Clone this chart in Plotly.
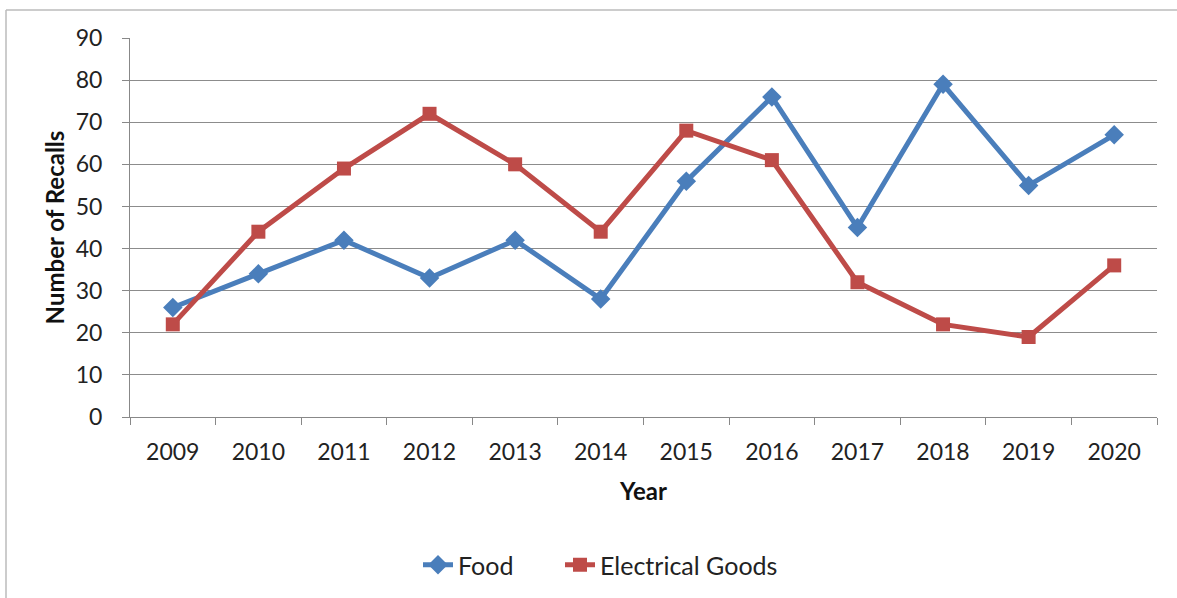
import plotly.graph_objects as go

years = ["2009", "2010", "2011", "2012", "2013", "2014", "2015", "2016", "2017", "2018", "2019", "2020"]
food = [26, 34, 42, 33, 42, 28, 56, 76, 45, 79, 55, 67]
electrical = [22, 44, 59, 72, 60, 44, 68, 61, 32, 22, 19, 36]
y_ticks = [0, 10, 20, 30, 40, 50, 60, 70, 80, 90]

FONT = "Lato, 'Open Sans', sans-serif"

fig = go.Figure()
fig.add_trace(go.Scatter(
    x=years, y=food, name="Food", mode="lines+markers", legend="legend",
    line=dict(color="#4A7EBB", width=5),
    marker=dict(symbol="diamond", size=15, color="#4A7EBB"),
))
fig.add_trace(go.Scatter(
    x=years, y=electrical, name="Electrical Goods", mode="lines+markers", legend="legend2",
    line=dict(color="#BE4B48", width=5),
    marker=dict(symbol="square", size=14, color="#BE4B48"),
))

L, R, T, B = 130, 20, 38, 180
W, H = 1177, 598
pw, ph = W - L - R, H - T - B

def px_x(p):
    return (p - L) / pw

def px_y(p):
    return (H - B - p) / ph

legend_common = dict(orientation="h", xanchor="left", y=px_y(565), yanchor="middle",
                     font=dict(size=25, color="#222"), bgcolor="rgba(0,0,0,0)")

fig.update_layout(
    width=W, height=H,
    margin=dict(l=L, r=R, t=T, b=B),
    paper_bgcolor="white", plot_bgcolor="white",
    font=dict(family=FONT, size=23, color="#222"),
    showlegend=True,
    legend=dict(x=px_x(418), **legend_common),
    legend2=dict(x=px_x(560), **legend_common),
    xaxis=dict(
        type="category", range=[-0.5, 11.5],
        showline=True, linecolor="#888", linewidth=1,
        ticks="outside", tickson="boundaries", ticklen=7, tickcolor="#888",
        showgrid=False, ticklabelstandoff=14,
        title=dict(text="<b>Year</b>", font=dict(size=24, color="#111"), standoff=19),
    ),
    yaxis=dict(
        range=[0, 90], tickvals=y_ticks, showline=True, linecolor="#888", linewidth=1,
        ticks="outside", ticklen=7, tickcolor="#888",
        showgrid=True, gridcolor="#8c8c8c", gridwidth=1, zeroline=False,
        ticklabelstandoff=15,
        title=dict(text="<b>Number of Recalls</b>", font=dict(size=24, color="#111"), standoff=4),
    ),
    shapes=[
        dict(type="line", xref="paper", yref="paper", x0=px_x(6), x1=px_x(1180), y0=px_y(10), y1=px_y(10),
             line=dict(color="#bbbbbb", width=1.5)),
        dict(type="line", xref="paper", yref="paper", x0=px_x(6), x1=px_x(6), y0=px_y(10), y1=px_y(600),
             line=dict(color="#bbbbbb", width=1.5)),
    ],
)

fig.write_html("out.html")
